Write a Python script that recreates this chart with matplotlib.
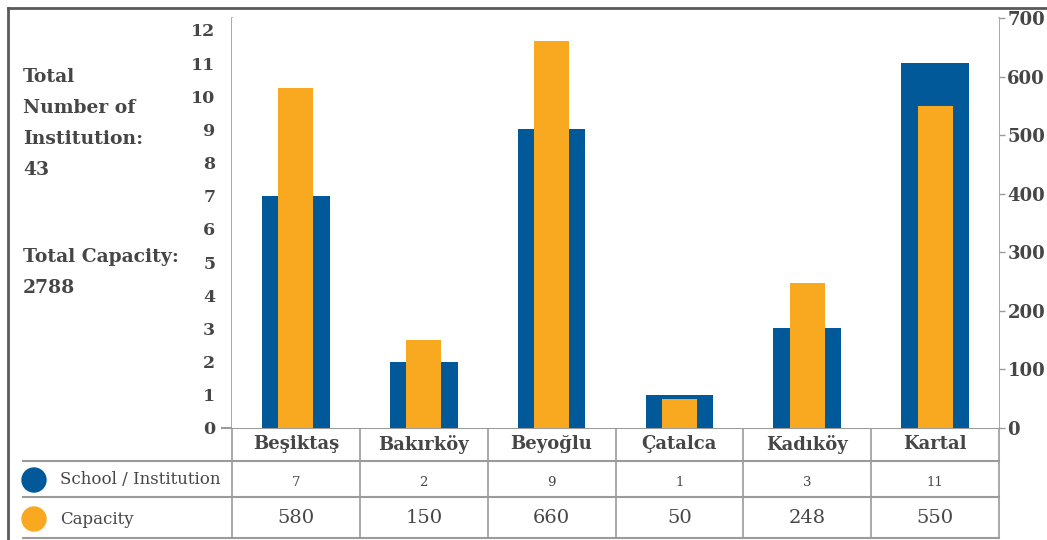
import matplotlib.pyplot as plt
from matplotlib.patches import Circle
from matplotlib.transforms import blended_transform_factory

districts = ['Beşiktaş', 'Bakırköy', 'Beyoğlu', 'Çatalca', 'Kadıköy', 'Kartal']
institutions = [7, 2, 9, 1, 3, 11]
capacity = [580, 150, 660, 50, 248, 550]
left_ticks = list(range(0, 13))
right_ticks = list(range(0, 701, 100))
side_lines = ['Total', 'Number of', 'Institution:', '43']
side_lines2 = ['Total Capacity:', '2788']

BLUE = '#02599a'
ORANGE = '#f9a91f'
TEXT = '#464646'
GRID = '#9b9b9b'
W, H = 1047, 540

plt.rcParams['font.family'] = 'DejaVu Serif'

fig = plt.figure(figsize=(W / 100, H / 100), dpi=100)

# overlay in pixel coordinates (y down)
ov = fig.add_axes([0, 0, 1, 1])
ov.set_xlim(0, W)
ov.set_ylim(H, 0)
ov.axis('off')

ax = fig.add_axes([232 / W, (H - 428) / H, (999 - 232) / W, (428 - 18) / H])
ax2 = ax.twinx()
x = list(range(len(districts)))

ax.bar(x, institutions, width=0.53, color=BLUE, zorder=2)
ax2.bar(x, capacity, width=0.275, color=ORANGE, zorder=3)

ax.set_xlim(-0.5, len(districts) - 0.5)
ax.set_ylim(0, 12.36)
ax2.set_ylim(0, 700)
ax.set_xticks([])
ax.set_yticks(left_ticks)
ax2.set_yticks(right_ticks)
ax.tick_params(axis='y', length=0, pad=12, labelsize=12.5, labelcolor=TEXT)
ax2.tick_params(axis='y', length=4, width=1, color=GRID, pad=2, labelsize=13, labelcolor=TEXT)
for lab in ax.get_yticklabels() + ax2.get_yticklabels():
    lab.set_fontweight('bold')

for a in (ax, ax2):
    for s in a.spines.values():
        s.set_visible(False)

# table / grid lines
bt = blended_transform_factory(ax.transData, ov.transData)
for i in range(len(districts) + 1):
    xb = i - 0.5
    y0 = 18 if i in (0, len(districts)) else 390
    ov.plot([xb, xb], [y0, 538], color=GRID, lw=1.2, transform=bt, clip_on=False)
ov.plot([222, 999], [428, 428], color=GRID, lw=1.5)
for yy in (461, 497, 538):
    ov.plot([23, 999], [yy, yy], color=GRID, lw=1.5)

for i, d in enumerate(districts):
    ov.text(i, 444, d, transform=bt, ha='center', va='center', fontsize=13,
            fontweight='bold', color=TEXT)
    ov.text(i, 482, str(institutions[i]), transform=bt, ha='center', va='center',
            fontsize=9.5, color=TEXT)
    ov.text(i, 518, str(capacity[i]), transform=bt, ha='center', va='center',
            fontsize=14, color=TEXT)

# legend cells
ov.add_patch(Circle((34, 480), 12, color=BLUE))
ov.add_patch(Circle((34, 519), 12, color=ORANGE))
ov.text(60, 480, 'School / Institution', ha='left', va='center', fontsize=12, color=TEXT)
ov.text(60, 519, 'Capacity', ha='left', va='center', fontsize=12, color=TEXT)

# side notes
for k, t in enumerate(side_lines):
    ov.text(23, 77 + k * 31, t, ha='left', va='center', fontsize=13.5, fontweight='bold', color=TEXT)
for k, t in enumerate(side_lines2):
    ov.text(23, 257 + k * 31, t, ha='left', va='center', fontsize=13.5, fontweight='bold', color=TEXT)

# outer border
ov.plot([8, 8], [8, 540], color='#5a5a5a', lw=2)
ov.plot([8, W], [8, 8], color='#5a5a5a', lw=2)

fig.savefig('out.png', dpi=100)
